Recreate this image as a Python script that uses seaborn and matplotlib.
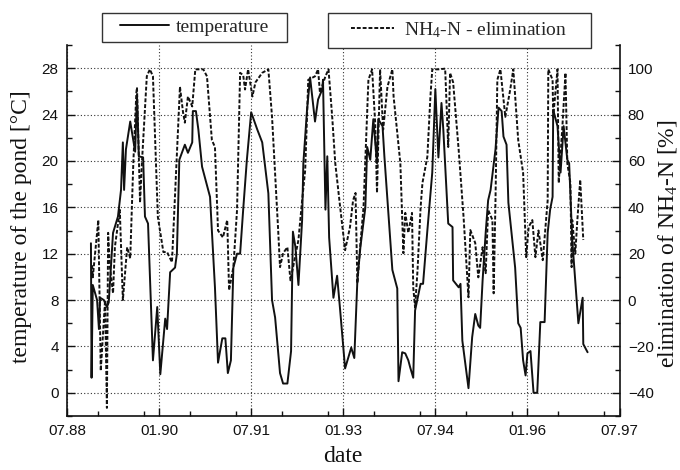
import matplotlib.pyplot as plt
import pandas as pd
import seaborn as sns
from matplotlib.patches import Rectangle
from matplotlib.ticker import MultipleLocator

# pond temperature (date in decimal years, value in degC)
temp_date = [1988.89, 1988.90, 1988.92, 1988.99, 1989.02, 1989.04, 1989.10, 1989.15, 1989.18, 1989.25,
             1989.33, 1989.36, 1989.38, 1989.41, 1989.43, 1989.46, 1989.53, 1989.58, 1989.61, 1989.64,
             1989.67, 1989.74, 1989.77, 1989.82, 1989.90, 1989.97, 1990.02, 1990.10, 1990.13, 1990.18,
             1990.26, 1990.29, 1990.33, 1990.42, 1990.47, 1990.54, 1990.55, 1990.60, 1990.64, 1990.70,
             1990.83, 1990.91, 1990.96, 1991.03, 1991.08, 1991.12, 1991.17, 1991.21, 1991.27, 1991.32,
             1991.37, 1991.43, 1991.50, 1991.60, 1991.68, 1991.78, 1991.84, 1991.89, 1991.97, 1992.02,
             1992.09, 1992.15, 1992.18, 1992.22, 1992.27, 1992.33, 1992.35, 1992.41, 1992.46, 1992.54,
             1992.59, 1992.66, 1992.67, 1992.71, 1992.74, 1992.77, 1992.84, 1992.90, 1992.95, 1993.03,
             1993.13, 1993.18, 1993.23, 1993.28, 1993.36, 1993.39, 1993.44, 1993.49, 1993.55, 1993.57,
             1993.64, 1993.67, 1993.72, 1993.80, 1993.88, 1993.90, 1993.96, 1994.01, 1994.06, 1994.09,
             1994.14, 1994.17, 1994.26, 1994.30, 1994.37, 1994.45, 1994.50, 1994.55, 1994.60, 1994.63,
             1994.71, 1994.78, 1994.79, 1994.88, 1994.91, 1994.94, 1995.04, 1995.10, 1995.15, 1995.20,
             1995.23, 1995.27, 1995.32, 1995.36, 1995.40, 1995.48, 1995.53, 1995.58, 1995.61, 1995.66,
             1995.69, 1995.80, 1995.85, 1995.89, 1995.93, 1995.97, 1996.00, 1996.05, 1996.10, 1996.16,
             1996.21, 1996.28, 1996.33, 1996.37, 1996.41, 1996.42, 1996.49, 1996.54, 1996.59, 1996.65,
             1996.68, 1996.73, 1996.83, 1996.90, 1996.91, 1996.98]
temp_value = [12.9, 1.3, 9.3, 8.0, 5.5, 8.2, 8.0, 7.4, 7.8, 13.8,
              15.2, 16.6, 17.5, 21.6, 17.5, 21.0, 23.4, 21.8, 20.8, 25.7,
              20.4, 20.3, 15.2, 14.6, 2.8, 7.4, 1.6, 6.4, 5.5, 10.4,
              10.8, 12.0, 20.1, 21.4, 20.7, 21.6, 24.3, 24.3, 22.7, 19.5,
              16.9, 9.1, 2.6, 4.7, 4.7, 1.7, 2.8, 10.8, 12.0, 12.0,
              15.8, 20.1, 24.2, 22.7, 21.6, 17.2, 8.0, 6.5, 1.7, 0.8,
              0.8, 3.6, 13.9, 12.6, 9.3, 14.9, 19.8, 24.4, 27.2, 23.4,
              25.3, 26.2, 27.0, 15.8, 20.4, 13.4, 8.2, 10.1, 7.1, 2.1,
              3.9, 3.0, 9.7, 12.6, 16.0, 21.2, 20.1, 23.6, 19.8, 23.6,
              23.0, 20.4, 16.6, 10.6, 9.0, 1.0, 3.5, 3.4, 2.8, 2.2,
              1.3, 7.1, 9.4, 9.4, 14.0, 19.0, 26.2, 20.3, 25.0, 22.7,
              14.6, 14.3, 9.7, 9.1, 9.4, 4.5, 0.4, 4.8, 6.8, 5.8,
              5.6, 9.7, 13.8, 16.6, 17.5, 21.0, 24.6, 24.3, 22.1, 21.4,
              16.4, 10.8, 6.0, 5.6, 2.8, 1.5, 3.4, 3.6, 0.0, 0.0,
              6.1, 6.1, 13.8, 15.8, 16.9, 24.4, 23.0, 19.0, 23.0, 20.1,
              19.8, 13.2, 6.0, 8.2, 4.2, 3.5]

# NH4-N elimination (date in decimal years, value in %)
nh4_date = [1988.91, 1988.92, 1989.01, 1989.05, 1989.12, 1989.15, 1989.17, 1989.20, 1989.25, 1989.28,
            1989.36, 1989.41, 1989.48, 1989.53, 1989.56, 1989.58, 1989.63, 1989.64, 1989.69, 1989.72,
            1989.80, 1989.85, 1989.90, 1989.93, 1989.98, 1990.07, 1990.13, 1990.21, 1990.34, 1990.39,
            1990.42, 1990.47, 1990.54, 1990.59, 1990.72, 1990.78, 1990.86, 1990.91, 1990.96, 1991.04,
            1991.11, 1991.14, 1991.21, 1991.27, 1991.32, 1991.37, 1991.40, 1991.45, 1991.52, 1991.57,
            1991.68, 1991.78, 1991.84, 1991.94, 1991.97, 1992.02, 1992.09, 1992.14, 1992.27, 1992.33,
            1992.38, 1992.43, 1992.54, 1992.59, 1992.62, 1992.71, 1992.76, 1992.82, 1992.87, 1992.95,
            1993.03, 1993.11, 1993.16, 1993.20, 1993.23, 1993.28, 1993.33, 1993.41, 1993.47, 1993.52,
            1993.55, 1993.60, 1993.65, 1993.72, 1993.80, 1993.82, 1993.93, 1993.95, 1993.98, 1994.01,
            1994.06, 1994.12, 1994.14, 1994.17, 1994.21, 1994.26, 1994.29, 1994.37, 1994.42, 1994.45,
            1994.55, 1994.66, 1994.71, 1994.74, 1994.79, 1994.88, 1994.96, 1995.04, 1995.07, 1995.15,
            1995.20, 1995.27, 1995.32, 1995.36, 1995.43, 1995.45, 1995.48, 1995.51, 1995.56, 1995.64,
            1995.72, 1995.77, 1995.85, 1995.93, 1995.98, 1996.02, 1996.08, 1996.13, 1996.18, 1996.25,
            1996.29, 1996.33, 1996.34, 1996.41, 1996.42, 1996.49, 1996.51, 1996.57, 1996.62, 1996.65,
            1996.70, 1996.72, 1996.73, 1996.78, 1996.81, 1996.86, 1996.91]
nh4_value = [15.0, 9.8, 34.5, -30.5, -0.1, -46.5, 29.0, 14.0, 2.9, 22.8,
             38.9, 0.0, 22.8, 18.0, 42.0, 59.0, 89.5, 91.7, 42.0, 59.0,
             96.5, 99.5, 96.5, 73.5, 35.8, 20.7, 20.7, 16.3, 92.0, 81.0,
             76.5, 87.8, 83.5, 99.5, 99.5, 96.5, 69.0, 66.0, 30.0, 27.0,
             34.5, 4.2, 14.2, 38.9, 98.0, 97.0, 90.8, 99.5, 87.8, 93.9,
             98.0, 99.5, 79.0, 30.0, 14.2, 20.2, 22.8, 8.5, 25.9, 43.0,
             56.0, 95.0, 96.5, 99.5, 89.5, 96.5, 99.5, 79.0, 59.0, 40.0,
             21.5, 31.5, 43.0, 46.2, 7.2, 24.6, 40.0, 95.0, 99.5, 76.5,
             46.2, 99.5, 73.5, 92.0, 99.5, 87.8, 59.0, 43.0, 20.2, 37.6,
             29.0, 37.6, 5.5, -3.2, 12.9, 40.0, 50.5, 61.8, 87.8, 99.5,
             99.5, 99.8, 66.0, 98.0, 93.9, 64.8, 35.8, 1.2, 30.2, 24.6,
             9.8, 22.8, 11.6, 38.9, 34.5, 2.9, 43.0, 95.0, 99.5, 79.0,
             90.8, 99.5, 69.0, 54.9, 18.5, 31.5, 34.5, 18.5, 30.0, 17.2,
             30.2, 43.0, 99.5, 95.0, 79.0, 99.5, 50.5, 75.0, 98.0, 59.0,
             50.5, 14.2, 34.5, 20.0, 33.2, 51.9, 25.9]

tick_pos = [1988.5, 1990.0, 1991.5, 1993.0, 1994.5, 1996.0, 1997.5]
tick_labels = ["07.88", "01.90", "07.91", "01.93", "07.94", "01.96", "07.97"]

sns.set_style("ticks")
plt.rcParams["font.family"] = ["Liberation Sans", "DejaVu Sans"]
plt.rcParams["mathtext.default"] = "regular"
serif = ["Liberation Serif", "DejaVu Serif"]

temp_df = pd.DataFrame({"date": temp_date, "temperature": temp_value})
nh4_df = pd.DataFrame({"date": nh4_date, "elimination": nh4_value})

fig = plt.figure(figsize=(6.8, 4.7), dpi=100)
ax = fig.add_axes([67 / 680, 1 - 416 / 470, 552.5 / 680, 371 / 470])
ax2 = ax.twinx()

sns.lineplot(data=temp_df, x="date", y="temperature", ax=ax, color="#111111",
             linewidth=1.4, estimator=None, sort=False)
sns.lineplot(data=nh4_df, x="date", y="elimination", ax=ax2, color="#111111",
             linewidth=1.4, estimator=None, sort=False)
ax2.lines[0].set_linestyle((0, (2, 1)))

# axes ranges and ticks
ax.set_xlim(1988.5, 1997.5)
ax.set_xticks(tick_pos, tick_labels)
ax.xaxis.set_minor_locator(MultipleLocator(0.75))
ax.set_ylim(-2, 30)
ax.set_yticks(range(0, 29, 4))
ax.yaxis.set_minor_locator(MultipleLocator(2))
ax2.set_ylim(-50, 110)
ax2.set_yticks(range(-40, 101, 20))
ax2.yaxis.set_minor_locator(MultipleLocator(10))

ax.grid(which="major", linestyle=(0, (1, 2)), color="#333333", linewidth=0.8)

ax.tick_params(which="both", direction="in", top=False, right=False, width=1.0,
               labelsize=11, colors="#111111")
ax.tick_params(which="major", length=6, pad=6)
ax.tick_params(which="minor", length=3.5)
ax2.tick_params(which="both", direction="in", left=False, right=True, width=1.0,
                labelsize=11, colors="#111111")
ax2.tick_params(which="major", length=6, pad=6)
ax2.tick_params(which="minor", length=3.5)

for side in ["top", "right"]:
    ax.spines[side].set_visible(False)
for side in ["top", "left", "bottom"]:
    ax2.spines[side].set_visible(False)
ax.spines["left"].set_linewidth(1.2)
ax.spines["bottom"].set_linewidth(1.2)
ax2.spines["right"].set_linewidth(1.2)
for s in ["left", "bottom"]:
    ax.spines[s].set_color("#111111")
ax2.spines["right"].set_color("#111111")

ax.set_xlabel("date", family=serif, fontsize=17, color="#111111")
ax.xaxis.set_label_coords(0.5, -0.08)
ax.set_ylabel("temperature of the pond [°C]", family=serif, fontsize=17, color="#111111")
ax.yaxis.set_label_coords(-0.064, 0.51)
ax2.set_ylabel("elimination of NH$_4$-N [%]", family=serif, fontsize=17, color="#111111")
ax2.yaxis.set_label_coords(1.066, 0.465)

# two separate legend boxes above the plot
fig.add_artist(Rectangle((102 / 680, 1 - 42 / 470), 185 / 680, 29 / 470, transform=fig.transFigure,
                         facecolor="white", edgecolor="#333333", linewidth=1.0, zorder=4))
fig.add_artist(Rectangle((328 / 680, 1 - 48 / 470), 263 / 680, 35 / 470, transform=fig.transFigure,
                         facecolor="white", edgecolor="#333333", linewidth=1.0, zorder=4))
leg_font = {"family": serif, "size": 14}
fig.legend([ax.lines[0]], ["temperature"], loc="center left",
           bbox_to_anchor=(120 / 680, 1 - 27.5 / 470), frameon=False, borderpad=0,
           borderaxespad=0, handlelength=2.5, handletextpad=0.35, prop=leg_font)
fig.legend([ax2.lines[0]], ["NH$_4$-N - elimination"], loc="center left",
           bbox_to_anchor=(351 / 680, 1 - 30 / 470), frameon=False, borderpad=0,
           borderaxespad=0, handlelength=2.2, handletextpad=0.5, prop=leg_font)

plt.savefig("out.png", dpi=100)
